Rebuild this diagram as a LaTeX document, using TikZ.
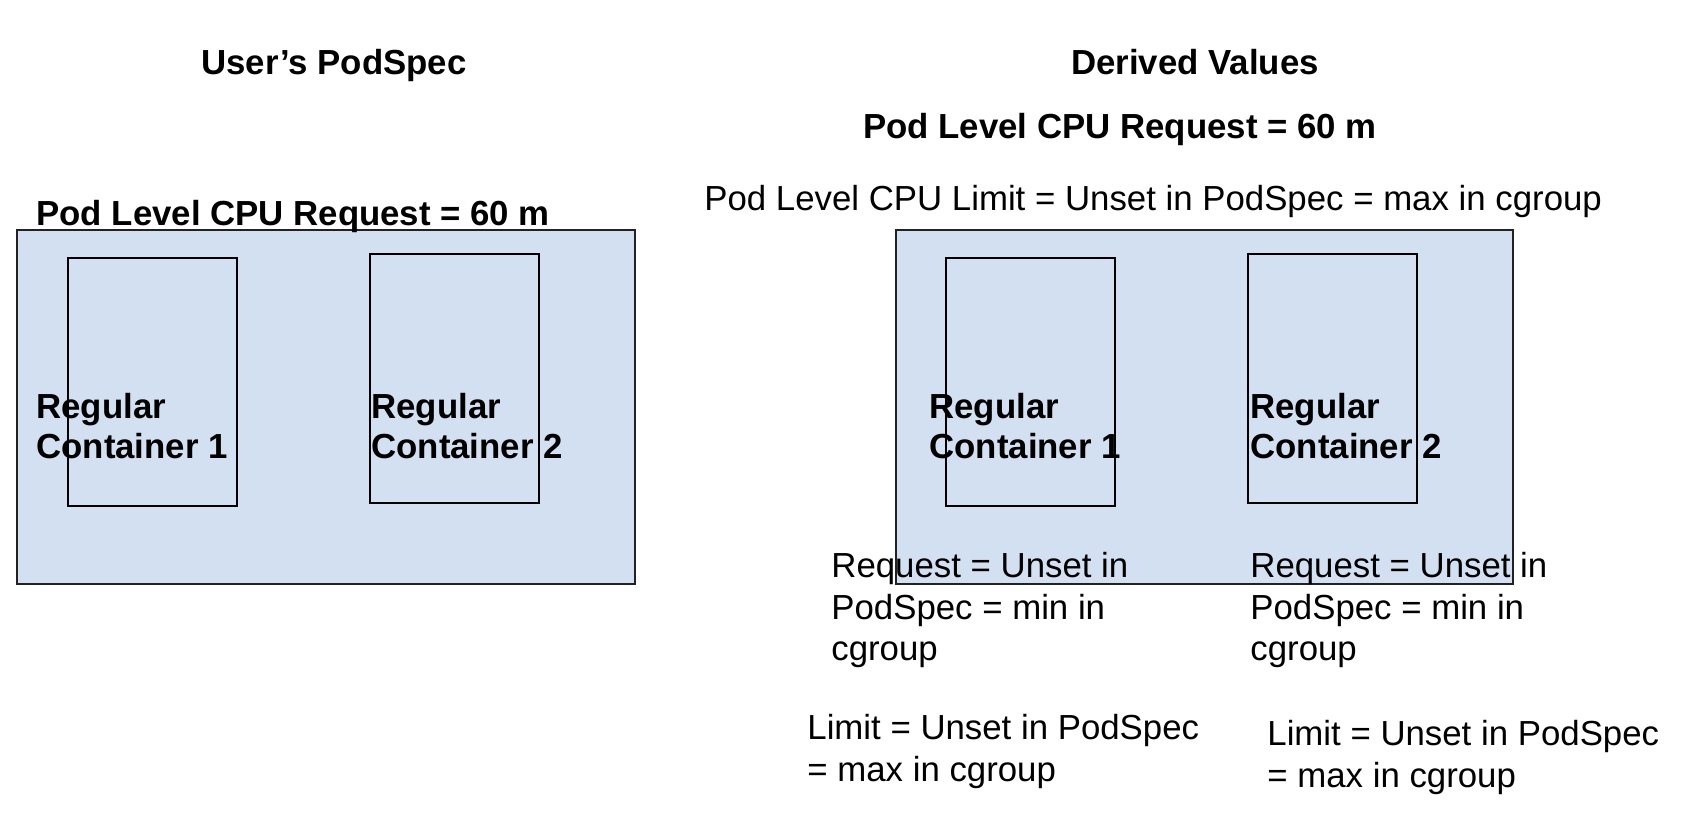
\documentclass[tikz,border=0pt]{standalone}
\usepackage{fontspec}
\setmainfont{Liberation Sans}
\usetikzlibrary{positioning}

\definecolor{podfill}{HTML}{D3E0F1}
\definecolor{podline}{HTML}{222222}

\tikzset{
	podbox/.style={draw=podline, line width=0.8pt, fill=podfill},
	ctrbox/.style={draw=black, line width=0.7pt},
	lbl/.style={anchor=base west, inner sep=0pt, align=left, font=\fontsize{17.4}{20.8}\selectfont},
	blbl/.style={lbl, font=\fontsize{17.4}{20}\selectfont\bfseries},
}

\begin{document}
\begin{tikzpicture}[x=0.5pt, y=-0.5pt]
	\useasboundingbox (0,0) rectangle (1696,838);
	
	% user's podspec (left)
	\draw[podbox] (17,230) rectangle (635,584);
	\draw[ctrbox] (68,258) rectangle (237,506);
	\draw[ctrbox] (370,254) rectangle (539,503);
	
	% derived values (right)
	\draw[podbox] (896,230) rectangle (1513,584);
	\draw[ctrbox] (946,258) rectangle (1115,506);
	\draw[ctrbox] (1248,254) rectangle (1417,503);
	
	% titles
	\node[blbl, anchor=base] (usertitle) at (334,75) {User’s PodSpec};
	\node[blbl, anchor=base] (derivedtitle) at (1195,75) {Derived Values};
	
	% pod level values
	\node[blbl] (userreq) at (36,226) {Pod Level CPU Request = 60 m};
	\node[blbl, anchor=base] (derivedreq) at (1120,139) {Pod Level CPU Request = 60 m};
	\node[lbl] (derivedlim) at (704,211) {Pod Level CPU Limit = Unset in PodSpec = max in cgroup};
	
	% container labels (anchored on last line)
	\node[blbl] (userctr1) at (36,459) {Regular\\Container 1};
	\node[blbl] (userctr2) at (371,459) {Regular\\Container 2};
	\node[blbl] (derivedctr1) at (929,459) {Regular\\Container 1};
	\node[blbl] (derivedctr2) at (1250,459) {Regular\\Container 2};
	
	% per-container derived values
	\node[lbl] (req1) at (831,661) {Request = Unset in\\PodSpec = min in\\cgroup};
	\node[lbl] (req2) at (1250,661) {Request = Unset in\\PodSpec = min in\\cgroup};
	\node[lbl] (lim1) at (807,781) {Limit = Unset in PodSpec\\= max in cgroup};
	\node[lbl] (lim2) at (1267,787) {Limit = Unset in PodSpec\\= max in cgroup};
	
\end{tikzpicture}
\end{document}
